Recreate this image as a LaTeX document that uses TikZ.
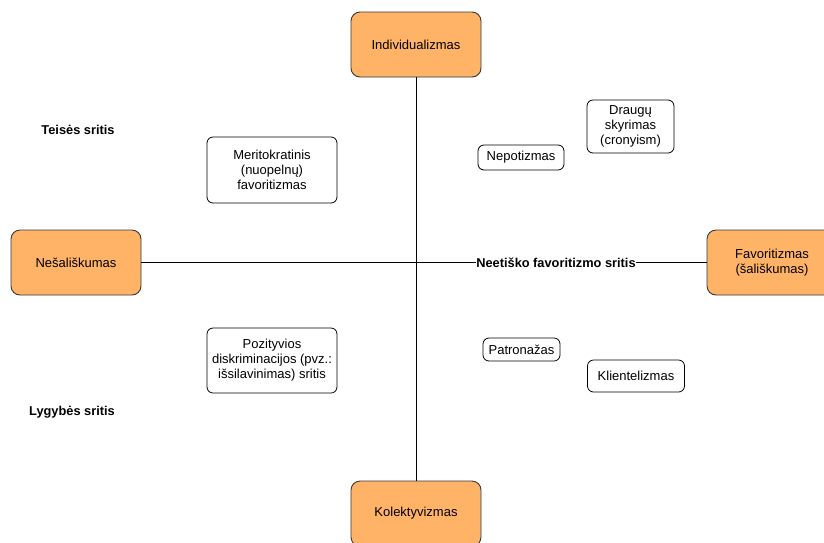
\documentclass[tikz,border=0pt]{standalone}
\usepackage{fontspec}
\setmainfont{Liberation Sans}
\definecolor{orangefill}{HTML}{FFB366}
\definecolor{edgegray}{HTML}{36393D}
\begin{document}
\begin{tikzpicture}[x=1pt,y=-1pt,
  bigbox/.style={draw=edgegray,fill=orangefill,rounded corners=9pt,line width=0.9pt,
    minimum width=130pt,minimum height=65pt,align=center,font=\fontsize{13}{15}\selectfont,inner sep=0pt},
  smallbox/.style={draw=black,fill=white,rounded corners=6pt,line width=0.8pt,
    align=center,font=\fontsize{13}{15}\selectfont,inner sep=0pt},
  sidelabel/.style={font=\bfseries\fontsize{12.8}{15}\selectfont,inner sep=0.5pt},
  axis/.style={draw=black,line width=0.9pt}]
\useasboundingbox (0,0) rectangle (824,542);
\fill[white] (0,0) rectangle (824,542);
% big boxes
\node[bigbox] (ind) at (416,44.5) {Individualizmas};
\node[bigbox] (nes) at (76,262.5) {Nešališkumas};
\node[bigbox] (fav) at (772,262.5) {Favoritizmas\\(šališkumas)};
\node[bigbox] (kol) at (416,513.5) {Kolektyvizmas};
% axes
\draw[axis] (ind.south) -- (kol.north);
\draw[axis] (nes.east) -- (fav.west);
\node[sidelabel,fill=white] (neet) at (556,262.5) {Neetiško favoritizmo sritis};
% small boxes
\node[smallbox,minimum width=130pt,minimum height=66pt] (mer) at (272,170) {Meritokratinis\\(nuopelnų)\\favoritizmas};
\node[smallbox,minimum width=86pt,minimum height=25pt] (nep) at (521,157.5) {Nepotizmas};
\node[smallbox,minimum width=87pt,minimum height=53pt] (dra) at (630.5,126.5) {Draugų\\skyrimas\\(cronyism)};
\node[smallbox,minimum width=130pt,minimum height=65pt] (poz) at (272,360.5) {Pozityvios\\diskriminacijos (pvz.:\\išsilavinimas) sritis};
\node[smallbox,minimum width=77pt,minimum height=23pt] (pat) at (521.5,349.5) {Patronažas};
\node[smallbox,minimum width=97pt,minimum height=32pt] (kli) at (636,376) {Klientelizmas};
% side labels
\node[sidelabel] (tei) at (78,130) {Teisės sritis};
\node[sidelabel] (lyg) at (72,412) {Lygybės sritis};
\end{tikzpicture}
\end{document}
